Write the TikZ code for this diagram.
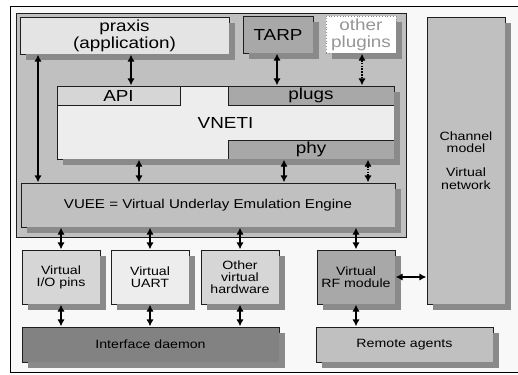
\documentclass[tikz,border=0pt]{standalone}
\usepackage{fontspec}
\setmainfont[FakeStretch=1.18]{Liberation Sans}
\usetikzlibrary{arrows.meta}
\definecolor{framebg}{HTML}{F8F8F8}
\definecolor{contc}{HTML}{C0C0C0}
\definecolor{lightc}{HTML}{E4E4E4}
\definecolor{whitec}{HTML}{EDEDED}
\definecolor{midc}{HTML}{D6D6D6}
\definecolor{darkc}{HTML}{A8A8A8}
\definecolor{daemonc}{HTML}{828282}
\definecolor{shadc}{HTML}{8A8A8A}
\definecolor{shgray}{rgb}{0.54,0.54,0.54}
\definecolor{linec}{HTML}{1E1E1E}
\tikzset{
  box/.style={draw=linec, line width=0.8pt, inner sep=0pt, align=center, text=black},
  shadowline/.style={draw=shgray, line width=6pt, line cap=butt, line join=miter},
  bigtxt/.style={font=\fontsize{16}{17}\selectfont},
  midtxt/.style={font=\fontsize{12.8}{14}\selectfont},
  smtxt/.style={font=\fontsize{12}{12.2}\selectfont},
  dar/.style={line width=2.2pt, {Latex[length=7pt,width=7.5pt]}-{Latex[length=7pt,width=7.5pt]}, shorten <=0.3pt, shorten >=0.3pt},
  dashar/.style={dar, dash pattern=on 1.6pt off 1.2pt},
}
\begin{document}
\begin{tikzpicture}[x=1pt,y=-1pt]
\useasboundingbox (0,0) rectangle (518,374);
\path[fill=white] (0,0) rectangle (518,374);
\path[draw=black, fill=framebg, line width=1pt] (10,7) rectangle (530,372);
\node[box, fill=contc, minimum width=390pt, minimum height=224pt] (cont) at (211,125) {};
% top row
\node[box, fill=lightc, bigtxt, minimum width=209pt, minimum height=37pt] (praxis) at (124.5,35.5) {praxis\\(application)};
\node[box, fill=darkc, bigtxt, minimum width=70pt, minimum height=37pt] (tarp) at (278,34.5) {TARP};
\node[box, fill=white, draw=shadc, dotted, text=shadc!90, bigtxt, minimum width=70pt, minimum height=37pt] (other) at (361,34.5) {other\\plugins};
% VNETI
\node[box, fill=whitec, bigtxt, minimum width=337pt, minimum height=73pt] (vneti) at (225.5,122.5) {VNETI};
\node[box, fill=midc, bigtxt, minimum width=123pt, minimum height=19pt] (api) at (118.5,95.5) {API};
\node[box, fill=darkc, bigtxt, minimum width=166pt, minimum height=19pt] (plugs) at (311,95.5) {plugs};
\node[box, fill=darkc, bigtxt, minimum width=166pt, minimum height=19pt] (phy) at (311,149.5) {phy};
% VUEE
\node[box, fill=contc, midtxt, minimum width=374pt, minimum height=44pt] (vuee) at (208,205) {VUEE = Virtual Underlay Emulation Engine};
% channel
\node[box, fill=contc, smtxt, minimum width=78pt, minimum height=287pt] (chan) at (466,160.5) {Channel\\model\\[12pt]Virtual\\network};
% hardware
\node[box, fill=midc, smtxt, minimum width=78pt, minimum height=54pt] (io) at (61,277) {Virtual\\I/O pins};
\node[box, fill=whitec, smtxt, minimum width=78pt, minimum height=54pt] (uart) at (150,277) {Virtual\\UART};
\node[box, fill=midc, smtxt, minimum width=78pt, minimum height=54pt] (ohw) at (240,277) {Other\\virtual\\hardware};
\node[box, fill=darkc, smtxt, minimum width=78pt, minimum height=54pt] (rf) at (356,277) {Virtual\\RF module};
% bottom
\node[box, fill=daemonc, smtxt, minimum width=257pt, minimum height=35pt] (daemon) at (150.5,344.5) {Interface daemon};
\node[box, fill=contc, smtxt, minimum width=177pt, minimum height=35pt] (remote) at (404.5,344.5) {Remote agents};
% shadows: L-shaped strips along the bottom and right edges
\foreach \n in {praxis,tarp,other,vneti,vuee,chan,io,uart,ohw,rf,daemon,remote}
  \draw[shadowline] ([shift={(6pt,-3pt)}]\n.south west) -- ([shift={(3pt,-3pt)}]\n.south east) -- ([shift={(3pt,-6pt)}]\n.north east);
% arrows
\draw[dar] (praxis.south -| 38,0) -- (vuee.north -| 38,0);
\draw[dar] (praxis.south -| 131,0) -- (api.north -| 131,0);
\draw[dar] (tarp.south -| 277,0) -- (plugs.north -| 277,0);
\draw[dashar] (other.south -| 362,0) -- (plugs.north -| 362,0);
\draw[dar] (vneti.south -| 139,0) -- (vuee.north -| 139,0);
\draw[dar] (phy.south -| 284,0) -- (vuee.north -| 284,0);
\draw[dashar] (phy.south -| 368,0) -- (vuee.north -| 368,0);
\draw[dar] (vuee.south -| io.north) -- (io.north);
\draw[dar] (vuee.south -| uart.north) -- (uart.north);
\draw[dar] (vuee.south -| ohw.north) -- (ohw.north);
\draw[dar] (vuee.south -| rf.north) -- (rf.north);
\draw[dar] (io.south) -- (daemon.north -| io.south);
\draw[dar] (uart.south) -- (daemon.north -| uart.south);
\draw[dar] (ohw.south) -- (daemon.north -| ohw.south);
\draw[dar] (rf.south) -- (remote.north -| rf.south);
\draw[dar] (rf.east) -- (chan.west |- rf.east);
\end{tikzpicture}
\end{document}
